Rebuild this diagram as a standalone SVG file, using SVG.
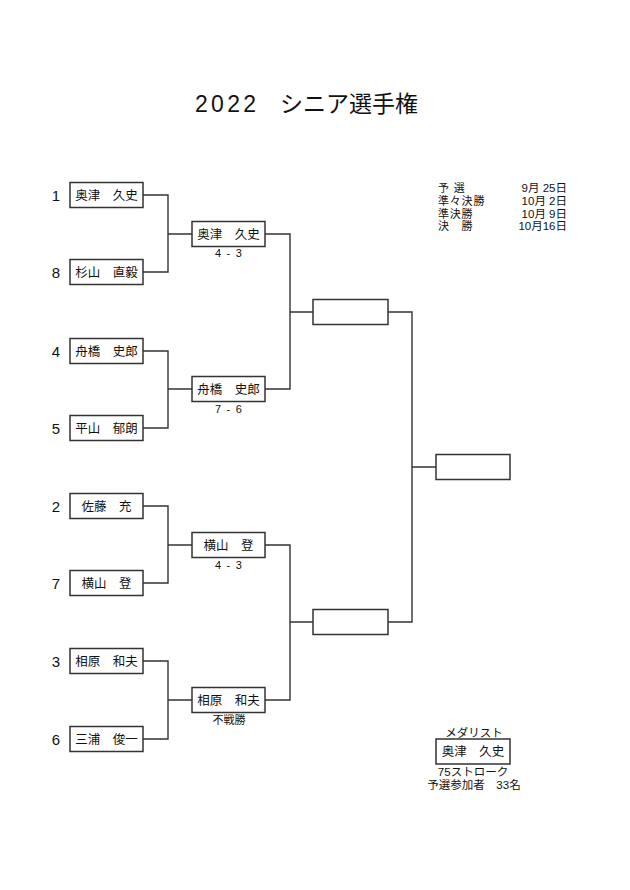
<svg xmlns="http://www.w3.org/2000/svg" width="630" height="890" viewBox="0 0 630 890">
<style>
text{font-family:"Liberation Sans","Noto Sans CJK JP",sans-serif;fill:#111}
.box{fill:#fff;stroke:#333;stroke-width:1.5}
.name{font-size:12.5px;text-anchor:middle}
.seed{font-size:15px;text-anchor:middle}
.score{font-size:11px;text-anchor:middle;letter-spacing:1.2px}
.sch{font-size:11px;letter-spacing:0.8px}
.dt{font-size:11.5px;text-anchor:end}
.med{font-size:11.5px;text-anchor:middle}
.conn{fill:none;stroke:#333;stroke-width:1.4}
</style>
<rect width="630" height="890" fill="#fff"/>
<g id="title"><text x="195" y="112" font-size="23"><tspan letter-spacing="3.3">2022</tspan> <tspan x="280">シニア選手権</tspan></text></g>
<g id="schedule">
<text class="sch" x="438" y="192">予 選</text><text class="dt" x="567" y="192">9月 25日</text>
<text class="sch" x="438" y="205">準々決勝</text><text class="dt" x="567" y="205">10月 2日</text>
<text class="sch" x="438" y="217.5">準決勝</text><text class="dt" x="567" y="217.5">10月 9日</text>
<text class="sch" x="438" y="230">決　勝</text><text class="dt" x="567" y="230">10月16日</text>
</g>
<g id="connectors">
<path class="conn" d="M143,195H168V272H143M168,234H192"/>
<path class="conn" d="M143,351H168V428H143M168,389H192"/>
<path class="conn" d="M143,506H168V583H143M168,545H192"/>
<path class="conn" d="M143,661H168V739H143M168,700H192"/>
<path class="conn" d="M265,234H290V389H265M290,312H313"/>
<path class="conn" d="M265,545H290V700H265M290,622H313"/>
<path class="conn" d="M388,312H412V622H388M412,467H436"/>
</g>
<g id="p1"><text class="seed" x="56" y="200.5">1</text><rect class="box" x="70" y="182.5" width="73" height="25"/><text class="name" x="106.5" y="200">奥津　久史</text></g>
<g id="p8"><text class="seed" x="56" y="277.5">8</text><rect class="box" x="70" y="259.5" width="73" height="25"/><text class="name" x="106.5" y="277">杉山　直毅</text></g>
<g id="p4"><text class="seed" x="56" y="356.5">4</text><rect class="box" x="70" y="338.5" width="73" height="25"/><text class="name" x="106.5" y="356">舟橋　史郎</text></g>
<g id="p5"><text class="seed" x="56" y="433.5">5</text><rect class="box" x="70" y="415.5" width="73" height="25"/><text class="name" x="106.5" y="433">平山　郁朗</text></g>
<g id="p2"><text class="seed" x="56" y="511.5">2</text><rect class="box" x="70" y="493.5" width="73" height="25"/><text class="name" x="106.5" y="511">佐藤　充</text></g>
<g id="p7"><text class="seed" x="56" y="588.5">7</text><rect class="box" x="70" y="570.5" width="73" height="25"/><text class="name" x="106.5" y="588">横山　登</text></g>
<g id="p3"><text class="seed" x="56" y="666.5">3</text><rect class="box" x="70" y="648.5" width="73" height="25"/><text class="name" x="106.5" y="666">相原　和夫</text></g>
<g id="p6"><text class="seed" x="56" y="744.5">6</text><rect class="box" x="70" y="726.5" width="73" height="25"/><text class="name" x="106.5" y="744">三浦　俊一</text></g>
<g id="qf1"><rect class="box" x="192" y="221.5" width="73" height="25"/><text class="name" x="228.5" y="239">奥津　久史</text><text class="score" x="229" y="257">4 - 3</text></g>
<g id="qf2"><rect class="box" x="192" y="376.5" width="73" height="25"/><text class="name" x="228.5" y="394">舟橋　史郎</text><text class="score" x="229" y="413">7 - 6</text></g>
<g id="qf3"><rect class="box" x="192" y="532.5" width="73" height="25"/><text class="name" x="228.5" y="550">横山　登</text><text class="score" x="229" y="569">4 - 3</text></g>
<g id="qf4"><rect class="box" x="192" y="687.5" width="73" height="25"/><text class="name" x="228.5" y="705">相原　和夫</text><text class="score" x="229" y="724" style="letter-spacing:0">不戦勝</text></g>
<g id="sf1"><rect class="box" x="313" y="299.5" width="75" height="25"/></g>
<g id="sf2"><rect class="box" x="313" y="609.5" width="75" height="25"/></g>
<g id="final"><rect class="box" x="436" y="454.5" width="74" height="25"/></g>
<g id="medalist">
<text class="med" x="474" y="737">メダリスト</text>
<rect class="box" x="436" y="739" width="74" height="25"/>
<text class="name" x="473" y="756">奥津　久史</text>
<text class="med" x="473" y="776">75ストローク</text>
<text class="med" x="474" y="789">予選参加者　33名</text>
</g>
</svg>
